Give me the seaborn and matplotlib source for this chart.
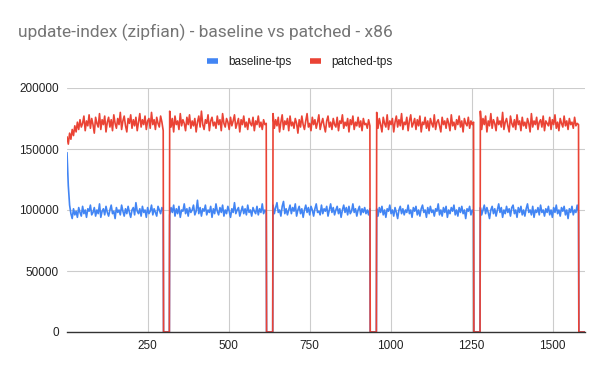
import numpy as np
import pandas as pd
import matplotlib
matplotlib.use("Agg")
import matplotlib.pyplot as plt
import seaborn as sns
from matplotlib.lines import Line2D

run_start = [1, 318, 637, 957, 1277]
run_end = [298, 616, 936, 1256, 1580]
x_max = 1600

patched_runs = [
    [160, 154, 163, 158, 166, 161, 169, 164, 172, 166, 174, 168, 171, 177, 165, 173, 169, 178, 167, 175,
     170, 163, 176, 171, 168, 179, 166, 174, 170, 177, 164, 172, 176, 168, 174, 165, 178, 171, 167, 175,
     170, 180, 166, 173, 177, 169, 164, 175, 171, 178, 167, 174, 169, 176, 165, 172, 179, 168, 174, 170,
     177, 166, 173, 175, 167, 180, 170, 174, 166, 176, 171, 168, 177, 172, 165],
    [181, 168, 175, 164, 177, 170, 173, 166, 179, 169, 174, 171, 165, 176, 170, 178, 167, 173, 169, 175,
     164, 172, 177, 168, 181, 170, 166, 174, 171, 178, 165, 173, 176, 169, 172, 167, 177, 170, 174, 165,
     179, 171, 168, 175, 172, 166, 176, 169, 173, 178, 167, 171, 175, 164, 174, 170, 177, 168, 172, 166,
     175, 171, 169, 176, 165, 173, 170, 177, 168, 172, 166, 174, 170, 171],
    [179, 167, 174, 169, 176, 164, 172, 178, 166, 173, 170, 175, 165, 177, 169, 172, 167, 175, 171, 163,
     174, 168, 177, 170, 166, 173, 179, 168, 171, 165, 176, 170, 174, 167, 172, 178, 166, 171, 175, 169,
     164, 173, 177, 168, 172, 166, 175, 170, 168, 176, 165, 173, 171, 178, 167, 172, 169, 175, 164, 174,
     170, 177, 166, 172, 169, 176, 168, 173, 165, 175, 170, 171, 167, 174, 169],
    [180, 167, 175, 170, 164, 176, 171, 168, 178, 166, 173, 170, 175, 164, 172, 177, 168, 174, 169, 179,
     166, 172, 170, 176, 165, 173, 178, 168, 171, 175, 166, 174, 169, 177, 164, 172, 170, 176, 167, 173,
     165, 175, 171, 168, 178, 166, 172, 174, 169, 164, 176, 170, 173, 167, 175, 171, 165, 178, 169, 172,
     166, 174, 170, 177, 168, 173, 164, 175, 171, 169, 176, 167, 173, 170, 172],
    [181, 166, 175, 170, 177, 164, 173, 169, 179, 167, 174, 171, 165, 176, 170, 173, 168, 180, 166, 172,
     175, 169, 164, 177, 171, 168, 174, 166, 178, 170, 173, 165, 176, 169, 172, 167, 175, 171, 164, 179,
     168, 173, 170, 176, 166, 172, 174, 168, 177, 165, 173, 171, 169, 176, 166, 174, 170, 178, 167, 172,
     165, 175, 171, 168, 177, 169, 173, 166, 175, 170, 172, 167, 176, 169, 171, 170],
]

baseline_runs = [
    [147, 120, 104, 97, 93, 101, 96, 99, 94, 102, 98, 95, 103, 97, 100, 94, 101, 99, 104, 96,
     98, 102, 95, 100, 97, 105, 94, 99, 101, 96, 103, 98, 95, 100, 104, 97, 99, 93, 102, 98,
     100, 96, 104, 99, 95, 101, 97, 103, 98, 94, 100, 102, 96, 106, 99, 97, 101, 95, 103, 98,
     100, 94, 102, 97, 99, 104, 96, 101, 98, 95, 103, 100, 97, 102, 99],
    [96, 102, 98, 104, 95, 101, 97, 103, 94, 100, 99, 105, 97, 101, 95, 102, 98, 100, 104, 96,
     99, 108, 97, 102, 95, 101, 99, 104, 96, 100, 98, 103, 94, 101, 97, 105, 99, 96, 102, 98,
     104, 95, 100, 97, 103, 99, 94, 101, 98, 106, 97, 100, 102, 95, 99, 103, 97, 101, 96, 104,
     98, 100, 95, 102, 99, 97, 103, 96, 101, 98, 105, 97, 100, 98],
    [104, 97, 102, 106, 98, 100, 95, 103, 107, 97, 101, 96, 100, 104, 97, 102, 99, 105, 95, 100,
     103, 97, 101, 94, 100, 104, 98, 102, 96, 103, 100, 95, 101, 105, 98, 99, 96, 104, 97, 101,
     99, 103, 95, 100, 105, 98, 102, 96, 100, 103, 97, 101, 94, 100, 104, 98, 102, 96, 103, 97,
     99, 105, 98, 101, 95, 100, 103, 96, 101, 98, 102, 97, 100, 96, 101],
    [101, 95, 102, 98, 103, 96, 100, 94, 101, 99, 104, 97, 100, 95, 102, 98, 93, 100, 103, 97,
     101, 96, 100, 98, 104, 97, 100, 94, 102, 99, 103, 96, 100, 95, 101, 104, 98, 100, 94, 102,
     97, 103, 98, 100, 95, 101, 99, 105, 96, 100, 95, 102, 98, 103, 94, 100, 97, 102, 99, 104,
     96, 100, 95, 102, 98, 103, 97, 100, 93, 101, 99, 103, 96, 100, 98],
    [102, 96, 100, 104, 97, 102, 98, 93, 100, 103, 97, 101, 95, 100, 105, 98, 102, 94, 100, 97,
     103, 98, 101, 95, 102, 104, 97, 100, 94, 102, 98, 103, 96, 100, 95, 101, 105, 98, 100, 96,
     103, 94, 100, 98, 102, 96, 104, 98, 100, 95, 101, 98, 103, 96, 100, 94, 102, 98, 104, 97,
     100, 95, 102, 99, 103, 96, 100, 93, 101, 98, 103, 96, 100, 98, 104, 98],
]

series_names = ["baseline-tps", "patched-tps"]
colors = ["#4285F4", "#EA4335"]


def build(runs):
    xs, ys = [], []
    for i, vals in enumerate(runs):
        xs += list(np.linspace(run_start[i], run_end[i], len(vals)))
        ys += [v * 1000 for v in vals]
        # drops to zero between runs
        gap_end = run_start[i + 1] - 1 if i + 1 < len(runs) else x_max
        xs += [run_end[i] + 1, gap_end]
        ys += [0, 0]
    return xs, ys


frames = []
for name, runs in zip(series_names, [baseline_runs, patched_runs]):
    xs, ys = build(runs)
    frames.append(pd.DataFrame({"x": xs, "tps": ys, "series": name}))
df = pd.concat(frames, ignore_index=True)

sns.set_style("white")
plt.rcParams["font.family"] = ["Liberation Sans", "DejaVu Sans"]

fig = plt.figure(figsize=(6, 3.71), dpi=100)
ax = fig.add_axes([67 / 600, 1 - 332 / 371, 518 / 600, 244 / 371])

sns.lineplot(data=df, x="x", y="tps", hue="series", hue_order=series_names,
             palette=colors, estimator=None, sort=False, linewidth=1.2, ax=ax, legend=False)

ax.set_xlim(1, x_max)
ax.set_ylim(0, 200000)
ax.set_xticks([250, 500, 750, 1000, 1250, 1500])
ax.set_yticks([0, 50000, 100000, 150000, 200000])
ax.set_xlabel("")
ax.set_ylabel("")
ax.grid(True, color="#cccccc", linewidth=0.8)
ax.set_axisbelow(True)
for s in ["top", "right", "left"]:
    ax.spines[s].set_visible(False)
ax.spines["bottom"].set_color("#333333")
ax.spines["bottom"].set_linewidth(1.0)
ax.tick_params(length=0, labelsize=8.5, colors="#222222", pad=6)

fig.text(18 / 600, 1 - 32 / 371, "update-index (zipfian) - baseline vs patched - x86",
         fontsize=12.5, color="#757575", va="center", ha="left", family=["Roboto", "DejaVu Sans"])

handles = [Line2D([], [], color=c, linewidth=4, solid_capstyle="butt") for c in colors]
fig.legend(handles, series_names, loc="center", bbox_to_anchor=(0.5, 1 - 62 / 371), ncol=2,
           frameon=False, fontsize=8.5, handlelength=0.9, columnspacing=1.6, handletextpad=0.9,
           labelcolor="#222222")

fig.savefig("out.png", dpi=100)
